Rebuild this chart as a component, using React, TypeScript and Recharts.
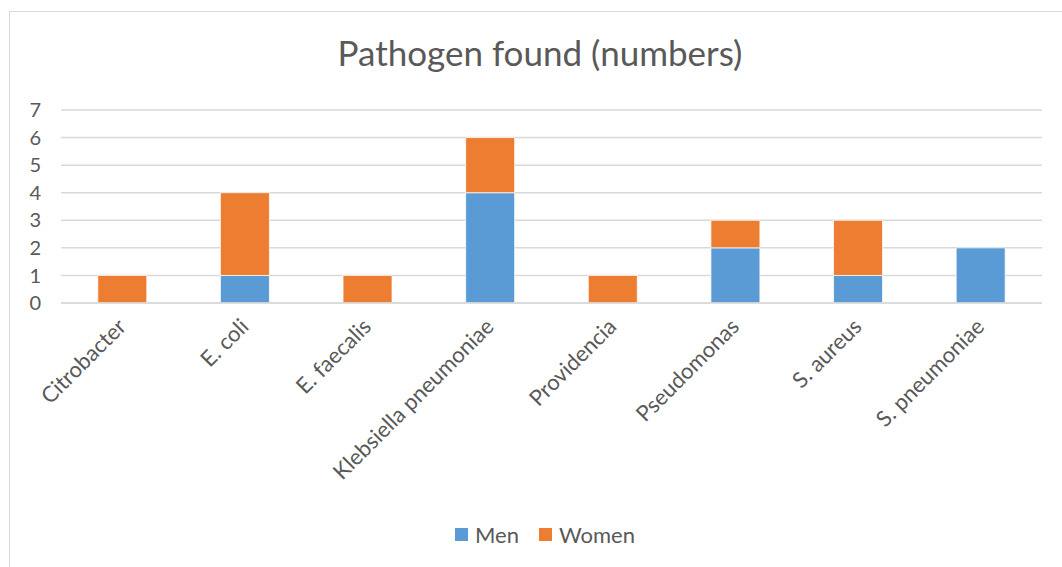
import React from "react";
import { BarChart, Bar, XAxis, YAxis, CartesianGrid, Legend } from "recharts";

const pathogens = [
  "Citrobacter",
  "E. coli",
  "E. faecalis",
  "Klebsiella pneumoniae",
  "Providencia",
  "Pseudomonas",
  "S. aureus",
  "S. pneumoniae",
];
const men = [0, 1, 0, 4, 0, 2, 1, 2];
const women = [1, 3, 1, 2, 1, 1, 2, 0];
const yTicks = [0, 1, 2, 3, 4, 5, 6, 7];

const BLUE = "#5B9BD5";
const ORANGE = "#ED7D31";
const TEXT = "#595959";
const FONT = "Lato, 'Open Sans', sans-serif";

const data = pathogens.map((name, i) => ({ name, men: men[i], women: women[i] }));

const AngledTick = ({ x, y, payload }: any) => (
  <g transform={`translate(${x + 5},${y + 17})`}>
    <text
      transform="rotate(-45)"
      textAnchor="end"
      fill={TEXT}
      fontSize={22}
      fontFamily={FONT}
    >
      {payload.value}
    </text>
  </g>
);

const LegendBox = () => (
  <div style={{ display: "flex", justifyContent: "center", gap: 20, fontFamily: FONT, fontSize: 22, color: TEXT, paddingTop: 4, paddingLeft: 38 }}>
    {[
      { label: "Men", color: BLUE },
      { label: "Women", color: ORANGE },
    ].map((item) => (
      <div key={item.label} style={{ display: "flex", alignItems: "center", gap: 7 }}>
        <span style={{ width: 13, height: 13, background: item.color, display: "inline-block" }} />
        <span>{item.label}</span>
      </div>
    ))}
  </div>
);

export default function App() {
  return (
    <div style={{ position: "absolute", left: 0, top: 0, width: 1062, height: 567, background: "#fff", overflow: "hidden" }}>
      {/* chart frame */}
      <div style={{ position: "absolute", left: 9, top: 11, width: 1080, height: 600, border: "1.5px solid #d9d9d9" }} />
      <div
        style={{
          position: "absolute",
          left: 0,
          width: 1080,
          top: 31,
          textAlign: "center",
          fontFamily: FONT,
          fontSize: 35,
          color: TEXT,
        }}
      >
        Pathogen found (numbers)
      </div>
      <div style={{ position: "absolute", left: 0, top: 0 }}>
        <BarChart
          width={1062}
          height={567}
          data={data}
          margin={{ top: 110, right: 20, bottom: 10, left: 10 }}
          barCategoryGap="30%"
        >
          <CartesianGrid vertical={false} stroke="#d9d9d9" strokeWidth={1.5} />
          <XAxis
            dataKey="name"
            interval={0}
            tick={<AngledTick />}
            tickLine={false}
            axisLine={{ stroke: "#d9d9d9", strokeWidth: 1.5 }}
            height={214}
          />
          <YAxis
            domain={[0, 7]}
            ticks={yTicks}
            interval={0}
            width={51}
            tickLine={false}
            axisLine={false}
            tickMargin={14}
            tick={{ fill: TEXT, fontSize: 20, fontFamily: FONT }}
          />
          <Legend verticalAlign="bottom" height={40} content={<LegendBox />} />
          <Bar dataKey="men" name="Men" stackId="a" fill={BLUE} stroke="#fff" strokeWidth={0.75} isAnimationActive={false} />
          <Bar dataKey="women" name="Women" stackId="a" fill={ORANGE} stroke="#fff" strokeWidth={0.75} isAnimationActive={false} />
        </BarChart>
      </div>
    </div>
  );
}
